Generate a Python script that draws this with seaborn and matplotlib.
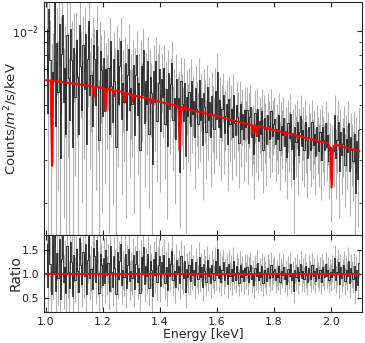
import numpy as np
import pandas as pd
import matplotlib
matplotlib.use("Agg")
import matplotlib.pyplot as plt
import seaborn as sns
from matplotlib.ticker import NullFormatter, LogLocator, MultipleLocator

# ------------------------------------------------------------------
# Data
# ------------------------------------------------------------------

# spectral bins, 4 eV wide, 1.0 - 2.1 keV
bin_start = 1.0
bin_width = 0.004

# data / model ratio, one row per 0.1 keV
ratio_rows = [
    [1.62, 0.74, 1.95, 1.21, 0.58, 1.84, 1.02, 2.10, 0.66, 1.43, 0.91, 1.72, 0.49,
     1.30, 1.88, 0.83, 1.15, 0.62, 1.57, 1.05, 0.71, 1.66, 1.24, 0.55, 1.39],
    [0.88, 1.51, 1.07, 0.63, 1.74, 1.19, 0.79, 1.45, 0.96, 1.62, 0.58, 1.28, 1.83,
     0.92, 1.11, 0.69, 1.54, 1.36, 0.84, 1.70, 1.01, 0.61, 1.41, 1.18, 0.77],
    [1.33, 0.81, 1.49, 0.97, 1.22, 0.66, 1.58, 1.04, 0.74, 1.37, 1.12, 0.59, 1.46,
     0.89, 1.27, 1.61, 0.78, 1.09, 0.94, 1.41, 0.71, 1.19, 1.52, 0.86, 1.06],
    [0.92, 1.38, 0.69, 1.21, 1.47, 0.84, 1.13, 0.61, 1.34, 1.02, 1.56, 0.79, 1.17,
     0.95, 1.42, 0.72, 1.26, 1.08, 0.55, 1.31, 0.98, 1.45, 0.83, 1.19, 1.36],
    [0.76, 1.24, 1.05, 1.39, 0.82, 1.14, 0.67, 1.33, 0.96, 1.21, 1.48, 0.87, 1.07,
     0.73, 1.29, 0.99, 1.16, 0.81, 1.37, 1.03, 0.91, 1.26, 0.64, 1.11, 0.94],
    [1.18, 0.86, 1.31, 0.97, 1.09, 0.78, 1.24, 1.02, 0.89, 1.35, 0.93, 1.14, 0.74,
     1.21, 1.06, 0.84, 1.28, 0.95, 1.12, 0.81, 1.19, 1.01, 0.88, 1.26, 0.97],
    [1.52, 0.91, 1.17, 0.83, 1.08, 1.24, 0.87, 1.02, 1.15, 0.79, 1.21, 0.96, 1.11,
     0.85, 1.27, 0.98, 0.88, 1.16, 1.04, 0.82, 1.19, 0.94, 1.09, 0.86, 1.13],
    [0.97, 1.14, 0.84, 1.07, 1.18, 0.89, 1.01, 0.78, 1.12, 0.95, 1.22, 0.87, 1.05,
     0.93, 1.16, 0.81, 1.09, 0.99, 0.86, 1.13, 1.03, 0.91, 1.19, 0.94, 1.06],
    [1.11, 0.88, 1.02, 0.93, 1.17, 0.84, 1.06, 0.97, 1.14, 0.90, 1.03, 0.80, 1.10,
     0.96, 1.20, 0.87, 1.01, 0.66, 1.08, 0.94, 1.15, 0.85, 1.04, 1.21, 0.92],
    [1.07, 0.89, 1.16, 0.98, 0.83, 1.12, 1.01, 0.90, 1.18, 0.95, 1.06, 0.86, 1.13,
     0.99, 0.91, 1.09, 0.84, 1.15, 1.02, 0.93, 1.20, 0.96, 1.08, 0.87, 1.04],
    [0.94, 1.11, 0.97, 1.32, 0.88, 1.05, 1.24, 0.79, 1.14, 0.92, 1.03, 1.19, 0.85,
     1.08, 0.96, 1.27, 0.81, 1.12, 0.99, 0.90, 1.16, 0.67, 1.09, 0.77, 1.22],
]

# 1-sigma error on the ratio for each 0.1 keV row
ratio_err_rows = [0.55, 0.46, 0.40, 0.36, 0.33, 0.30, 0.28, 0.27, 0.26, 0.26, 0.28]

# best-fit model (continuum + absorption lines), counts/m^2/s/keV
model_energy = [
    1.000, 1.017, 1.021, 1.025, 1.100, 1.164, 1.168, 1.172, 1.200, 1.206, 1.210,
    1.214, 1.236, 1.240, 1.244, 1.273, 1.277, 1.281, 1.300, 1.302, 1.305, 1.308,
    1.364, 1.368, 1.372, 1.400, 1.465, 1.470, 1.475, 1.479, 1.482, 1.485, 1.500,
    1.600, 1.700, 1.723, 1.727, 1.731, 1.736, 1.740, 1.744, 1.800, 1.836, 1.840,
    1.844, 1.881, 1.885, 1.889, 1.900, 1.990, 1.995, 1.999, 2.003, 2.007, 2.011,
    2.015, 2.100,
]
model_flux = [
    6.30, 6.27, 2.83, 6.26, 6.10, 5.95, 5.41, 5.93, 5.85, 5.83, 4.72,
    5.81, 5.75, 5.45, 5.73, 5.62, 5.11, 5.60, 5.50, 5.49, 5.16, 5.47,
    5.28, 5.07, 5.26, 5.15, 4.93, 3.30, 4.91, 4.90, 4.75, 4.89, 4.80,
    4.50, 4.20, 4.14, 3.81, 4.13, 4.12, 3.75, 4.11, 3.95, 3.86, 3.74,
    3.85, 3.75, 3.64, 3.74, 3.70, 3.49, 3.38, 3.20, 2.31, 3.22, 3.40,
    3.45, 3.24,
]
flux_unit = 1e-3

# ------------------------------------------------------------------
# Build tables
# ------------------------------------------------------------------
ratio = np.concatenate([np.array(r) for r in ratio_rows])
ratio_err = np.repeat(ratio_err_rows, len(ratio_rows[0]))
energy = bin_start + bin_width * (np.arange(len(ratio)) + 0.5)

model_df = pd.DataFrame({"energy": model_energy,
                         "flux": np.array(model_flux) * flux_unit})
model_at_bins = np.interp(energy, model_df["energy"], model_df["flux"])

spec = pd.DataFrame({
    "energy": energy,
    "ratio": ratio,
    "ratio_err": ratio_err,
    "flux": ratio * model_at_bins,
    "flux_err": ratio_err * model_at_bins,
})

# ------------------------------------------------------------------
# Plot
# ------------------------------------------------------------------
sns.set_style("ticks")
plt.rcParams["font.family"] = ["DejaVu Sans"]
plt.rcParams["xtick.direction"] = "in"
plt.rcParams["ytick.direction"] = "in"

fig = plt.figure(figsize=(3.65, 3.43), dpi=100)
gs = fig.add_gridspec(2, 1, height_ratios=[233, 77], hspace=0,
                      left=0.1205, right=0.992, top=0.994, bottom=0.0904)
ax = fig.add_subplot(gs[0])
axr = fig.add_subplot(gs[1], sharex=ax)

# spectrum
ax.errorbar(spec["energy"], spec["flux"], yerr=spec["flux_err"], fmt="none",
            ecolor="k", elinewidth=0.8, alpha=0.3)
ax.step(spec["energy"], spec["flux"], where="mid", color="k", lw=0.6, alpha=0.85)
sns.lineplot(data=model_df, x="energy", y="flux", ax=ax, color="red", lw=1.5,
             sort=False, estimator=None)

ax.set_yscale("log")
ax.set_ylim(1.48e-3, 1.31e-2)
ax.yaxis.set_minor_locator(LogLocator(base=10, subs=np.arange(2, 10)))
ax.yaxis.set_minor_formatter(NullFormatter())
ax.set_ylabel("Counts/$m^2$/s/keV", fontsize=9.5)
ax.yaxis.set_label_coords(-0.074, 0.5)
ax.set_xlabel("")
ax.tick_params(labelbottom=False)

# ratio panel
axr.errorbar(spec["energy"], spec["ratio"], yerr=spec["ratio_err"], fmt="none",
             ecolor="k", elinewidth=0.8, alpha=0.3)
axr.step(spec["energy"], spec["ratio"], where="mid", color="k", lw=0.6, alpha=0.85)
unity = pd.DataFrame({"energy": [model_energy[0], model_energy[-1]], "ratio": [1.0, 1.0]})
sns.lineplot(data=unity, x="energy", y="ratio", ax=axr, color="red", lw=1.5)
axr.set_ylim(0.22, 1.80)
axr.yaxis.set_major_locator(MultipleLocator(0.5))
axr.set_ylabel("Ratio", fontsize=10)
axr.yaxis.set_label_coords(-0.068, 0.5)
axr.set_xlabel("Energy [keV]", fontsize=9, labelpad=1)

axr.set_xlim(0.993, 2.11)
axr.xaxis.set_major_locator(MultipleLocator(0.2))

for a in (ax, axr):
    a.tick_params(which="both", top=True, right=True, labelsize=8)
    a.tick_params(which="major", length=3.5, width=0.8)
    a.tick_params(which="minor", length=2, width=0.6)
    for s in a.spines.values():
        s.set_linewidth(0.8)

fig.savefig("out.png", dpi=100)
plt.close(fig)
